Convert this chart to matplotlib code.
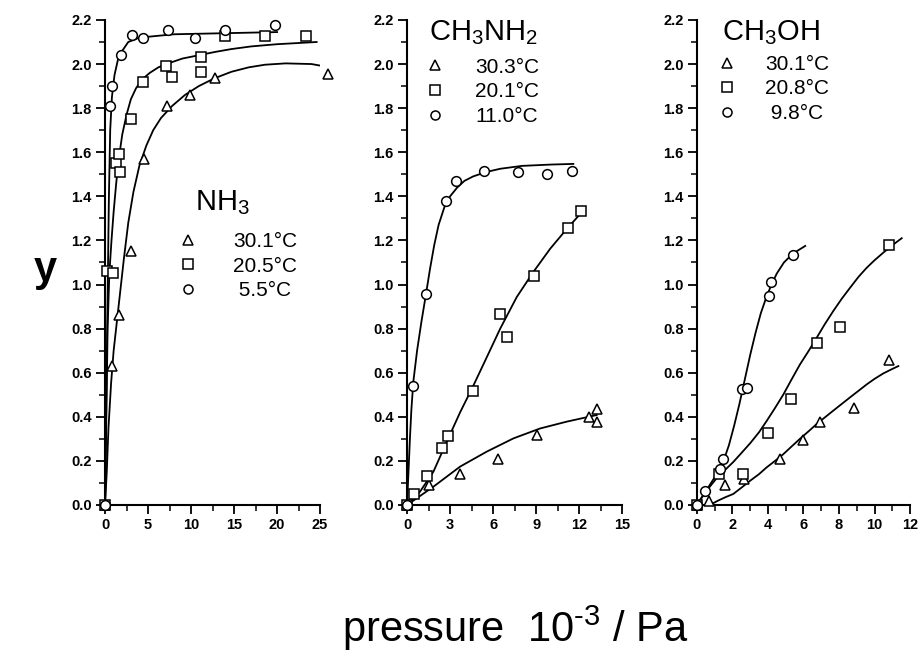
import numpy as np
import matplotlib
matplotlib.use("Agg")
from matplotlib import pyplot as plt
from matplotlib.lines import Line2D

plt.rcParams['font.family'] = ['Liberation Sans', 'DejaVu Sans']
plt.rcParams['mathtext.fontset'] = 'custom'
plt.rcParams['mathtext.rm'] = 'Liberation Sans'
plt.rcParams['mathtext.default'] = 'regular'

# ---- NH3 ----
nh3_labels = ['30.1°C', '20.5°C', ' 5.5°C']
nh3_tri_x = [0, 0.85, 1.6, 3.05, 4.5, 7.2, 9.9, 12.8, 25.9]
nh3_tri_y = [0, 0.63, 0.86, 1.15, 1.57, 1.81, 1.86, 1.935, 1.955]
nh3_sq_x = [0, 0.27, 0.93, 1.24, 1.62, 1.7, 3.05, 4.4, 7.1, 7.8, 11.1, 11.2, 14.0, 18.6, 23.4]
nh3_sq_y = [0, 1.06, 1.05, 1.55, 1.59, 1.51, 1.75, 1.92, 1.99, 1.94, 1.965, 2.03, 2.125, 2.125, 2.125]
nh3_ci_x = [0, 0.58, 0.77, 1.8, 3.1, 4.4, 7.3, 10.5, 13.9, 19.7]
nh3_ci_y = [0, 1.81, 1.90, 2.04, 2.13, 2.12, 2.155, 2.12, 2.155, 2.175]
# fitted curves
nh3_tri_fx = [0, 0.2, 0.4, 0.7, 1.0, 1.4, 1.8, 2.2, 2.7, 3.3, 4.0, 4.8, 5.6, 6.5, 7.8,
              9.3, 10.9, 12.7, 14.7, 16.7, 18.6, 21, 24, 25]
nh3_tri_fy = [0, 0.15, 0.35, 0.55, 0.7, 0.84, 0.98, 1.12, 1.28, 1.42, 1.54, 1.63, 1.70,
              1.755, 1.81, 1.86, 1.9, 1.935, 1.965, 1.985, 1.997, 2.003, 2.0, 1.993]
nh3_sq_fx = [0, 0.15, 0.3, 0.5, 0.75, 1.0, 1.3, 1.6, 2.0, 2.5, 3.0, 3.6, 4.3, 5.2, 6.2,
             7.5, 9, 10.9, 12.8, 14.7, 17, 20, 24.6]
nh3_sq_fy = [0, 0.4, 0.8, 1.05, 1.2, 1.33, 1.46, 1.57, 1.68, 1.77, 1.84, 1.89, 1.93, 1.96,
             1.985, 2.005, 2.025, 2.04, 2.055, 2.068, 2.08, 2.09, 2.10]
nh3_ci_fx = [0, 0.25, 0.45, 0.6, 0.8, 1.1, 1.5, 2.0, 2.7, 4, 8, 14, 20]
nh3_ci_fy = [0, 0.8, 1.4, 1.7, 1.85, 1.95, 2.02, 2.06, 2.10, 2.12, 2.135, 2.14, 2.145]

# ---- CH3NH2 ----
mna_labels = ['30.3°C', '20.1°C', '11.0°C']
mna_tri_x = [0, 1.56, 3.72, 6.37, 9.07, 12.67, 13.28, 13.28]
mna_tri_y = [0, 0.089, 0.142, 0.21, 0.316, 0.399, 0.434, 0.376]
mna_sq_x = [0, 0.51, 1.42, 2.42, 2.84, 4.63, 6.51, 6.95, 8.88, 11.2, 12.14]
mna_sq_y = [0, 0.051, 0.13, 0.258, 0.313, 0.517, 0.867, 0.761, 1.038, 1.258, 1.334]
mna_ci_x = [0, 0.4, 1.33, 2.72, 3.4, 5.4, 7.77, 9.74, 11.5]
mna_ci_y = [0, 0.54, 0.958, 1.378, 1.468, 1.517, 1.51, 1.50, 1.517]
mna_tri_fx = [0, 1.84, 3.7, 5.56, 7.42, 9.28, 11.14, 13.23]
mna_tri_fy = [0, 0.083, 0.174, 0.242, 0.302, 0.347, 0.378, 0.408]
mna_sq_fx = [0, 0.9, 1.84, 2.77, 3.7, 4.63, 5.56, 6.5, 7.65, 8.8, 9.98, 11.14, 12.19]
mna_sq_fy = [0, 0.06, 0.151, 0.287, 0.42, 0.542, 0.67, 0.8, 0.943, 1.056, 1.162, 1.252, 1.328]
mna_ci_fx = [0, 0.1, 0.2, 0.3, 0.44, 0.7, 1.0, 1.33, 1.6, 1.9, 2.2, 2.6, 3.0, 3.5, 4.0,
             4.6, 5.5, 6.5, 8, 10, 11.6]
mna_ci_fy = [0, 0.15, 0.3, 0.43, 0.56, 0.7, 0.83, 0.96, 1.07, 1.18, 1.27, 1.35, 1.40, 1.44,
             1.47, 1.49, 1.51, 1.525, 1.538, 1.544, 1.547]

# ---- CH3OH ----
meoh_labels = ['30.1°C', '20.8°C', ' 9.8°C']
meoh_tri_x = [0, 0.7, 1.6, 2.67, 4.68, 5.99, 6.93, 8.85, 10.84]
meoh_tri_y = [0, 0.02, 0.09, 0.116, 0.207, 0.293, 0.378, 0.438, 0.657]
meoh_sq_x = [0, 1.24, 2.61, 4.02, 5.31, 6.74, 8.06, 10.84]
meoh_sq_y = [0, 0.139, 0.139, 0.328, 0.479, 0.736, 0.807, 1.181]
meoh_ci_x = [0, 0.45, 1.33, 1.45, 2.52, 2.8, 4.06, 4.2, 5.39]
meoh_ci_y = [0, 0.063, 0.165, 0.207, 0.524, 0.53, 0.95, 1.01, 1.136]
meoh_tri_fx = [0.73, 1.2, 1.6, 2.05, 2.5, 3.0, 3.5, 3.92, 4.4, 4.86, 5.3, 5.8, 6.3, 6.74,
               7.2, 7.68, 8.15, 8.62, 9.1, 9.56, 10, 10.5, 11, 11.34]
meoh_tri_fy = [0, 0.02, 0.035, 0.05, 0.078, 0.11, 0.14, 0.17, 0.2, 0.23, 0.263, 0.3, 0.335,
               0.367, 0.397, 0.428, 0.458, 0.488, 0.518, 0.547, 0.572, 0.597, 0.617, 0.63]
meoh_sq_fx = [0, 0.5, 1.1, 1.6, 2.05, 2.5, 3.0, 3.5, 3.92, 4.4, 4.86, 5.3, 5.8, 6.3, 6.74,
              7.2, 7.68, 8.15, 8.62, 9.1, 9.56, 10, 10.5, 11, 11.53]
meoh_sq_fy = [0, 0.06, 0.12, 0.16, 0.195, 0.235, 0.28, 0.33, 0.38, 0.44, 0.5, 0.565, 0.637,
              0.7, 0.758, 0.82, 0.88, 0.935, 0.985, 1.035, 1.076, 1.11, 1.145, 1.178, 1.21]
meoh_ci_fx = [0, 0.4, 0.8, 1.2, 1.5, 1.8, 2.1, 2.4, 2.7, 3.0, 3.3, 3.6, 3.9, 4.2, 4.5, 4.9,
              5.4, 6.1]
meoh_ci_fy = [0, 0.05, 0.1, 0.15, 0.2, 0.27, 0.36, 0.46, 0.57, 0.68, 0.78, 0.87, 0.94, 1.0,
              1.05, 1.1, 1.14, 1.175]

panels = [
    dict(title='NH$_3$', labels=nh3_labels, xmax=25, major=5, minor=2.5,
         pts=[(nh3_tri_x, nh3_tri_y), (nh3_sq_x, nh3_sq_y), (nh3_ci_x, nh3_ci_y)],
         fits=[(nh3_tri_fx, nh3_tri_fy), (nh3_sq_fx, nh3_sq_fy), (nh3_ci_fx, nh3_ci_fy)],
         pos=[0.1138, 0.2255, 0.233, 0.7439], tpos=(0.419, 0.608),
         leg=(0.338, 0.563), pad=1.66),
    dict(title='CH$_3$NH$_2$', labels=mna_labels, xmax=15, major=3, minor=1.5,
         pts=[(mna_tri_x, mna_tri_y), (mna_sq_x, mna_sq_y), (mna_ci_x, mna_ci_y)],
         fits=[(mna_tri_fx, mna_tri_fy), (mna_sq_fx, mna_sq_fy), (mna_ci_fx, mna_ci_fy)],
         pos=[0.441, 0.2255, 0.233, 0.7439], tpos=(0.102, 0.959),
         leg=(0.082, 0.922), pad=1.42),
    dict(title='CH$_3$OH', labels=meoh_labels, xmax=12, major=2, minor=1,
         pts=[(meoh_tri_x, meoh_tri_y), (meoh_sq_x, meoh_sq_y), (meoh_ci_x, meoh_ci_y)],
         fits=[(meoh_tri_fx, meoh_tri_fy), (meoh_sq_fx, meoh_sq_fy), (meoh_ci_fx, meoh_ci_fy)],
         pos=[0.755, 0.2255, 0.231, 0.7439], tpos=(0.117, 0.959),
         leg=(0.092, 0.928), pad=1.33),
]
markers = ['^', 's', 'o']

fig = plt.figure(figsize=(9.23, 6.52), dpi=100)
for p in panels:
    ax = fig.add_axes(p['pos'])
    for (fx, fy) in p['fits']:
        ax.plot(fx, fy, color='black', lw=1.3)
    for m, (x, y) in zip(markers, p['pts']):
        ax.plot(x, y, linestyle='none', marker=m, markersize=7, markerfacecolor='white',
                markeredgecolor='black', markeredgewidth=1.1, clip_on=False, zorder=3)
    ax.set_xlim(0, p['xmax'])
    ax.set_ylim(0, 2.2)
    ax.spines['top'].set_visible(False)
    ax.spines['right'].set_visible(False)
    for s in ['left', 'bottom']:
        ax.spines[s].set_linewidth(1.5)
    ax.set_xticks(np.arange(0, p['xmax'] + 0.01, p['major']))
    ax.set_xticks(np.arange(0, p['xmax'] + 0.01, p['minor']), minor=True)
    ax.set_yticks(np.arange(0, 2.21, 0.2))
    ax.set_yticks(np.arange(0, 2.21, 0.1), minor=True)
    ax.set_yticklabels(['%.1f' % v for v in np.arange(0, 2.21, 0.2)])
    ax.tick_params(which='major', direction='out', length=6.5, width=1.3,
                   labelsize=10.5, pad=3)
    ax.tick_params(which='minor', direction='out', length=4, width=1.1)
    for lab in ax.get_xticklabels() + ax.get_yticklabels():
        lab.set_fontweight('bold')
    ax.text(p['tpos'][0], p['tpos'][1], p['title'], transform=ax.transAxes,
            fontsize=21, ha='left', va='baseline')
    handles = [Line2D([], [], linestyle='none', marker=m, markersize=6.5,
                      markerfacecolor='white', markeredgecolor='black',
                      markeredgewidth=1.1) for m in markers]
    ax.legend(handles, p['labels'], loc='upper left', bbox_to_anchor=p['leg'],
              frameon=False, fontsize=15, handletextpad=p['pad'], labelspacing=0.27,
              borderpad=0, borderaxespad=0, handlelength=1.0)

fig.text(0.049, 0.586, 'y', fontsize=30, fontweight='bold', ha='center', va='center')
fig.text(0.558, 0.037, r'pressure  10$^{\text{-}3}$ / Pa', fontsize=30,
         ha='center', va='center')

fig.savefig('out.png', dpi=100)
